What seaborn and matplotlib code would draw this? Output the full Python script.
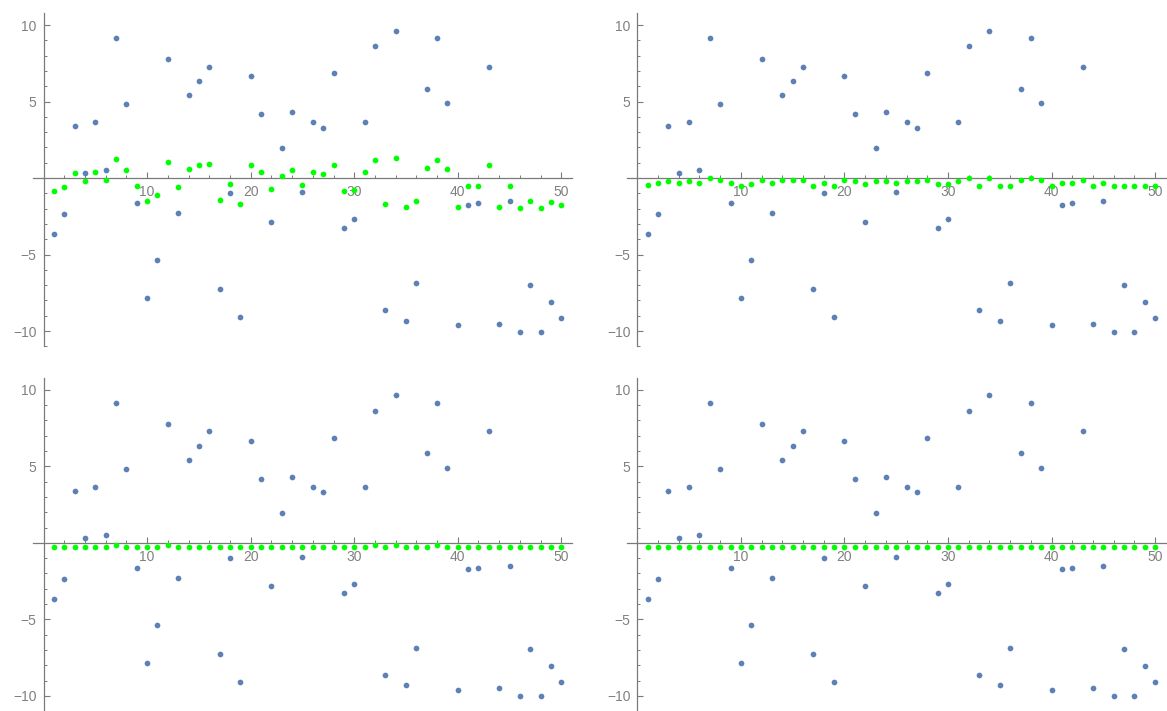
import numpy as np
import pandas as pd
import matplotlib
matplotlib.use("Agg")
import matplotlib.pyplot as plt
import seaborn as sns
from matplotlib.ticker import FixedLocator

sns.set_style("white")
plt.rcParams["font.family"] = ["Liberation Sans", "DejaVu Sans"]

# sample index
idx = list(range(1, 51))

# raw signal (same in every panel)
signal = [-3.68, -2.35, 3.38, 0.31, 3.68, 0.52, 9.13, 4.81, -1.63, -7.86,
          -5.34, 7.78, -2.27, 5.42, 6.34, 7.28, -7.28, -1.00, -9.11, 6.64,
          4.20, -2.85, 1.94, 4.31, -0.92, 3.68, 3.29, 6.86, -3.29, -2.66,
          3.68, 8.61, -8.61, 9.63, -9.32, -6.86, 5.84, 9.13, 4.92, -9.63,
          -1.74, -1.63, 7.28, -9.52, -1.53, -10.04, -6.97, -10.04, -8.08, -9.13]

# smoothed estimates, one per panel
est_a = [-0.83, -0.61, 0.31, -0.20, 0.41, -0.11, 1.22, 0.52, -0.50, -1.53,
         -1.11, 1.02, -0.61, 0.61, 0.83, 0.92, -1.44, -0.39, -1.72, 0.83,
         0.41, -0.70, 0.11, 0.52, -0.44, 0.37, 0.26, 0.87, -0.85, -0.80,
         0.37, 1.18, -1.68, 1.29, -1.87, -1.48, 0.68, 1.18, 0.57, -1.87,
         -0.54, -0.54, 0.87, -1.87, -0.54, -1.98, -1.48, -1.98, -1.57, -1.76]

est_b = [-0.44, -0.33, -0.22, -0.33, -0.22, -0.33, -0.02, -0.13, -0.33, -0.52,
         -0.41, -0.13, -0.33, -0.13, -0.13, -0.13, -0.52, -0.33, -0.52, -0.13,
         -0.22, -0.41, -0.22, -0.22, -0.33, -0.22, -0.22, -0.13, -0.41, -0.41,
         -0.22, -0.02, -0.52, -0.02, -0.52, -0.52, -0.13, -0.02, -0.13, -0.52,
         -0.33, -0.33, -0.13, -0.52, -0.33, -0.52, -0.52, -0.52, -0.52, -0.52]

est_c = [-0.30, -0.30, -0.30, -0.30, -0.30, -0.30, -0.15, -0.30, -0.30, -0.30,
         -0.30, -0.15, -0.30, -0.30, -0.30, -0.30, -0.30, -0.30, -0.30, -0.30,
         -0.30, -0.30, -0.30, -0.30, -0.30, -0.30, -0.30, -0.30, -0.30, -0.30,
         -0.30, -0.15, -0.30, -0.15, -0.30, -0.30, -0.30, -0.15, -0.30, -0.30,
         -0.30, -0.30, -0.30, -0.30, -0.30, -0.30, -0.30, -0.30, -0.30, -0.30]

est_d = [-0.30] * 50

x_major = [10, 20, 30, 40, 50]
y_major = [-10, -5, 5, 10]

BLUE = "#5E81B5"
GREEN = "#00FF00"
AXIS = "#7a7a7a"
LABEL = "#808080"

W, H = 1167, 711
fig = plt.figure(figsize=(W / 100, H / 100), dpi=100)

# panel boxes in pixels: (left, top)
px_w = 538.5
px_h = 333.5
boxes = [
    (33.2, 12.8),    # top left
    (627.0, 12.8),   # top right
    (33.2, 377.6),   # bottom left
    (627.0, 377.6),  # bottom right
]
estimates = [est_a, est_b, est_c, est_d]

for (lx, ty), est in zip(boxes, estimates):
    ax = fig.add_axes([lx / W, 1 - (ty + px_h) / H, px_w / W, px_h / H])
    df = pd.DataFrame({"i": idx, "signal": signal, "est": est})
    sns.scatterplot(data=df, x="i", y="signal", ax=ax, color=BLUE, s=17,
                    linewidth=0, zorder=3)
    sns.scatterplot(data=df, x="i", y="est", ax=ax, color=GREEN, s=17,
                    linewidth=0, zorder=4)
    ax.set_xlim(-1, 51)
    ax.set_ylim(-11.0, 10.8)
    ax.set_xlabel("")
    ax.set_ylabel("")
    for side in ("top", "right"):
        ax.spines[side].set_visible(False)
    for side in ("left", "bottom"):
        ax.spines[side].set_position(("data", 0))
        ax.spines[side].set_color(AXIS)
        ax.spines[side].set_linewidth(0.9)
    ax.xaxis.set_major_locator(FixedLocator(x_major))
    ax.xaxis.set_minor_locator(FixedLocator([v for v in range(2, 51, 2) if v % 10]))
    ax.yaxis.set_major_locator(FixedLocator(y_major))
    ax.yaxis.set_minor_locator(FixedLocator([v for v in range(-11, 11) if v % 5]))
    ax.tick_params(which="both", bottom=True, left=True, top=False, right=False)
    ax.tick_params(which="major", direction="in", length=4.5, width=0.8,
                   color=AXIS, labelcolor=LABEL, labelsize=10)
    ax.tick_params(which="minor", direction="in", length=2.3, width=0.7,
                   color=AXIS)
    ax.tick_params(axis="x", which="major", pad=5)
    ax.tick_params(axis="y", which="major", pad=5)
    ax.patch.set_alpha(0)

fig.savefig("out.png", dpi=100)
